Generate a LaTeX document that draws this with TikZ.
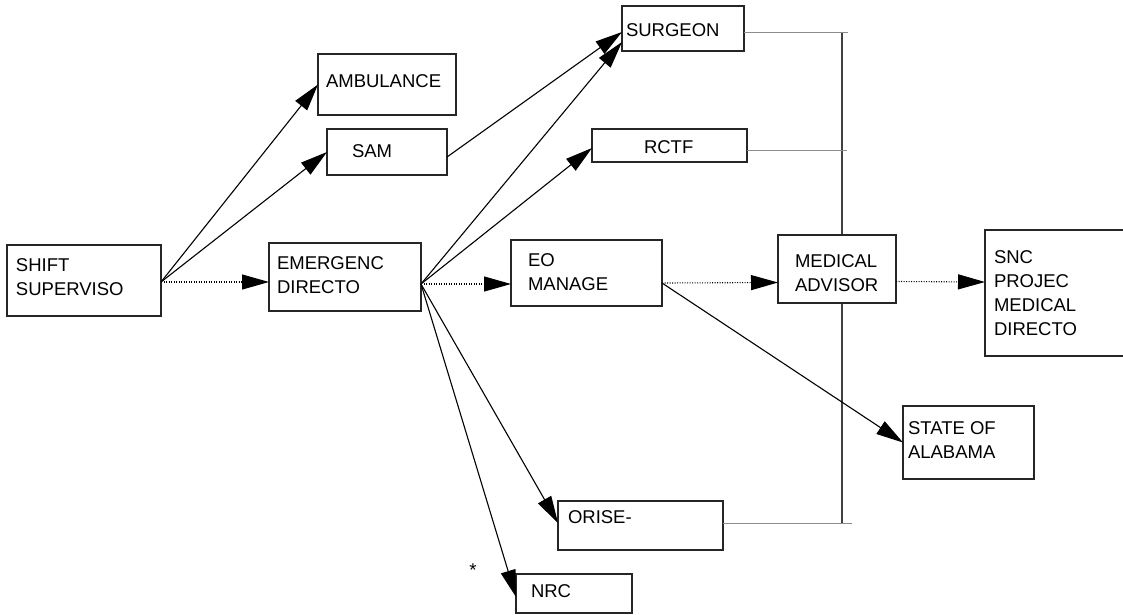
\documentclass[tikz,border=0pt]{standalone}
\usepackage{fontspec}
\setmainfont{Liberation Sans}
\usetikzlibrary{arrows.meta}
\begin{document}
\begin{tikzpicture}[x=1pt,y=-1pt,
  box/.style={draw=black!85, line width=1.4pt, fill=white, inner sep=0pt, outer sep=0pt, anchor=north west},
  txt/.style={inner sep=0pt, outer sep=0pt, anchor=north west, align=left, font=\fontsize{18.5}{24}\selectfont},
  arr/.style={line width=1.1pt, -{Triangle[length=27pt,width=15pt]}},
  dotarr/.style={arr, dash pattern=on 1pt off 1.5pt},
  bus/.style={draw=black!45, line width=1pt},
  busv/.style={draw=black!75, line width=1.6pt}]
\clip (0,0) rectangle (1123,614);
% vertical bus (behind the boxes)
\coordinate (vt) at (842,32);
\coordinate (vb) at (842,523);
\draw[busv] (vt) -- (vb);
% boxes
\node[box, minimum width=154pt, minimum height=71pt] (shift) at (7,245) {};
\node[box, minimum width=152pt, minimum height=68pt] (emer) at (269,243) {};
\node[box, minimum width=138pt, minimum height=61pt] (amb) at (318,54) {};
\node[box, minimum width=120pt, minimum height=46pt] (sam) at (327,129) {};
\node[box, minimum width=122pt, minimum height=45pt] (surgeon) at (622,6) {};
\node[box, minimum width=155pt, minimum height=33pt] (rctf) at (592,129) {};
\node[box, minimum width=151pt, minimum height=66pt] (eo) at (511,240) {};
\node[box, minimum width=118pt, minimum height=68pt] (med) at (778,235) {};
\node[box, minimum width=150pt, minimum height=126pt] (snc) at (985,230) {};
\node[box, minimum width=131pt, minimum height=73pt] (state) at (903,406) {};
\node[box, minimum width=165pt, minimum height=49pt] (orise) at (558,501) {};
\node[box, minimum width=116pt, minimum height=39pt] (nrc) at (516,574) {};
% texts
\node[txt] (shiftT) at (16,258.8) {SHIFT\\SUPERVISO};
\node[txt] (emerT) at (277,256.8) {EMERGENC\\DIRECTO};
\node[txt] (ambT) at (326,74.8) {AMBULANCE};
\node[txt] (samT) at (352,144.8) {SAM};
\node[txt] (surgeonT) at (626,23.8) {SURGEON};
\node[txt] (rctfT) at (644,140.8) {RCTF};
\node[txt] (eoT) at (528,253.8) {EO\\MANAGE};
\node[txt] (medT) at (795,254.8) {MEDICAL\\ADVISOR};
\node[txt] (sncT) at (994,250.8) {SNC\\PROJEC\\MEDICAL\\DIRECTO};
\node[txt] (stateT) at (908,421.8) {STATE OF\\ALABAMA};
\node[txt] (oriseT) at (568,510.8) {ORISE-};
\node[txt] (nrcT) at (531,584.8) {NRC};
\node[txt, anchor=base] (star) at (473,576) {*};
% horizontal bus lines
\coordinate (ht) at (848,32);
\coordinate (hm) at (847,150);
\coordinate (hb) at (852,523);
\draw[bus] ([yshift=-3.5pt]surgeon.east) -- (ht);
\draw[bus] ([yshift=-4.5pt]rctf.east) -- (hm);
\draw[bus] ([yshift=2.5pt]orise.east) -- (hb);
% arrows
\draw[arr] ([yshift=-1.5pt]shift.east) -- (amb.west);
\draw[arr] ([yshift=-1.5pt]shift.east) -- (sam.west);
\draw[dotarr] ([yshift=-1.5pt]shift.east) -- ([yshift=-5pt]emer.west);
\draw[arr] ([yshift=-5pt]sam.east) -- ([yshift=-3.5pt]surgeon.west);
\draw[arr] ([yshift=-7pt]emer.east) -- ([yshift=-13.5pt]surgeon.west);
\draw[arr] ([yshift=-7pt]emer.east) -- ([yshift=-2.5pt]rctf.west);
\draw[dotarr] ([yshift=-7pt]emer.east) -- ([yshift=-11pt]eo.west);
\draw[arr] ([yshift=-7pt]emer.east) -- ([yshift=2.5pt]orise.west);
\draw[arr] ([yshift=-7pt]emer.east) -- ([yshift=-3.5pt]nrc.west);
\draw[dotarr] ([yshift=-10pt]eo.east) -- ([yshift=-13.5pt]med.west);
\draw[arr] ([yshift=-10pt]eo.east) -- (state.west);
\draw[dotarr] ([yshift=-12.5pt]med.east) -- ([yshift=11pt]snc.west);
\end{tikzpicture}
\end{document}
